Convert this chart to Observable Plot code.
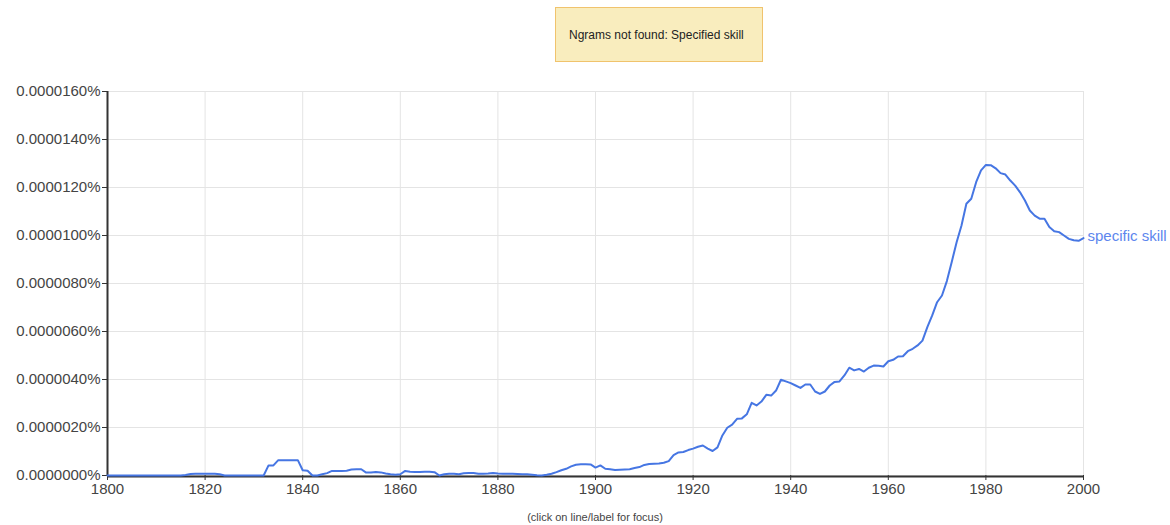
<!DOCTYPE html>
<html>
<head>
<meta charset="utf-8">
<script src="https://cdn.jsdelivr.net/npm/d3@7"></script>
<script src="https://cdn.jsdelivr.net/npm/@observablehq/plot@0.6"></script>
<style>
  html, body { margin: 0; padding: 0; background: #fff; }
  #wrap { position: relative; width: 1170px; height: 525px; font-family: "Liberation Sans", Arial, sans-serif; }
  #notice { position: absolute; left: 555px; top: 7px; width: 193px; height: 53px; padding-left: 13px;
            background: #f9edbe; border: 1px solid #f0c36d; display: flex; align-items: center;
            font-size: 12px; color: #222; box-sizing: content-box; }
  #caption { position: absolute; left: 0; top: 507px; width: 1170px; padding-left: 20px; box-sizing: border-box;
             text-align: center; font-size: 11px; color: #444; line-height: 20px; }
  #chart svg { display: block; }
</style>
</head>
<body>
<div id="wrap">
  <div id="chart"></div>
  <div id="notice">Ngrams not found: Specified skill</div>
  <div id="caption">(click on line/label for focus)</div>
</div>
<script>
// Series: "specific skill", yearly 1800–2000, values in millionths of a percent (×1e-6 %)
const seriesName = "specific skill";
const startYear = 1800;
const values = [
  // 1800-1809
  0, 0, 0, 0, 0, 0, 0, 0, 0, 0,
  // 1810-1819
  0, 0, 0, 0, 0, 0, 0.02, 0.06, 0.07, 0.07,
  // 1820-1829
  0.07, 0.07, 0.07, 0.05, 0, 0, 0, 0, 0, 0,
  // 1830-1839
  0, 0, 0, 0.42, 0.42, 0.64, 0.64, 0.64, 0.64, 0.64,
  // 1840-1849
  0.22, 0.2, 0, 0, 0.05, 0.1, 0.19, 0.19, 0.19, 0.2,
  // 1850-1859
  0.25, 0.26, 0.26, 0.12, 0.13, 0.15, 0.13, 0.08, 0.05, 0.03,
  // 1860-1869
  0.05, 0.19, 0.16, 0.15, 0.15, 0.16, 0.16, 0.14, 0, 0.05,
  // 1870-1879
  0.07, 0.07, 0.05, 0.09, 0.1, 0.1, 0.07, 0.07, 0.08, 0.1,
  // 1880-1889
  0.08, 0.07, 0.07, 0.07, 0.06, 0.05, 0.05, 0.03, 0.01, 0,
  // 1890-1899
  0.03, 0.07, 0.14, 0.22, 0.28, 0.38, 0.45, 0.47, 0.47, 0.46,
  // 1900-1909
  0.33, 0.42, 0.28, 0.26, 0.23, 0.24, 0.25, 0.26, 0.31, 0.35,
  // 1910-1919
  0.44, 0.48, 0.49, 0.5, 0.53, 0.6, 0.85, 0.96, 0.98, 1.06,
  // 1920-1929
  1.12, 1.2, 1.25, 1.12, 1.02, 1.17, 1.67, 1.99, 2.12, 2.36,
  // 1930-1939
  2.38, 2.55, 3.03, 2.92, 3.08, 3.36, 3.33, 3.54, 3.99, 3.92,
  // 1940-1949
  3.85, 3.75, 3.65, 3.79, 3.79, 3.5, 3.4, 3.5, 3.75, 3.9,
  // 1950-1959
  3.92, 4.17, 4.49, 4.38, 4.44, 4.33, 4.49, 4.58, 4.57, 4.54,
  // 1960-1969
  4.76, 4.82, 4.96, 4.97, 5.18, 5.28, 5.42, 5.62, 6.18, 6.67,
  // 1970-1979
  7.22, 7.5, 8.1, 8.9, 9.72, 10.42, 11.32, 11.53, 12.22, 12.71,
  // 1980-1989
  12.94, 12.93, 12.8, 12.6, 12.54, 12.29, 12.08, 11.8, 11.46, 11.04,
  // 1990-1999
  10.83, 10.7, 10.7, 10.35, 10.18, 10.14, 10.0, 9.86, 9.8, 9.78,
  // 2000
  9.89
];
const xTicks = [1800, 1820, 1840, 1860, 1880, 1900, 1920, 1940, 1960, 1980, 2000];
const yTicks = [0, 2, 4, 6, 8, 10, 12, 14, 16];

const data = values.map((v, i) => ({year: startYear + i, value: v}));
const last = data[data.length - 1];

const lineColor = "#4676e3";
const labelColor = "#5d86ee";
const gridColor = "#e4e4e4";
const axisColor = "#333";

const chart = Plot.plot({
  width: 1170,
  height: 505,
  marginLeft: 107,
  marginRight: 87,
  marginTop: 91,
  marginBottom: 30,
  style: {fontFamily: "'Liberation Sans', Arial, sans-serif", fontSize: "15px", color: "#444", background: "transparent"},
  x: {domain: [1800, 2000], label: null},
  y: {domain: [0, 16], label: null},
  marks: [
    Plot.gridX(xTicks, {stroke: gridColor, strokeOpacity: 1}),
    Plot.gridY(yTicks, {stroke: gridColor, strokeOpacity: 1}),
    Plot.axisY(yTicks, {tickSize: 5, tickPadding: 2, stroke: axisColor, fill: "#444", label: null,
      tickFormat: d => (d * 1e-6).toFixed(7) + "%", fontSize: 15}),
    Plot.axisX(xTicks, {tickSize: 5, tickPadding: 3, stroke: axisColor, fill: "#444", label: null,
      tickFormat: d => String(d), fontSize: 15}),
    Plot.ruleX([1800], {stroke: axisColor, strokeWidth: 2}),
    Plot.ruleY([0], {stroke: axisColor, strokeWidth: 2, dy: 1}),
    Plot.line(data, {x: "year", y: "value", stroke: lineColor, strokeWidth: 2, curve: "linear"}),
    Plot.text([last], {x: "year", y: "value", text: () => seriesName, dx: 4, dy: -2, textAnchor: "start",
      fill: labelColor, fontSize: 15})
  ]
});
document.getElementById("chart").appendChild(chart);
</script>
</body>
</html>
